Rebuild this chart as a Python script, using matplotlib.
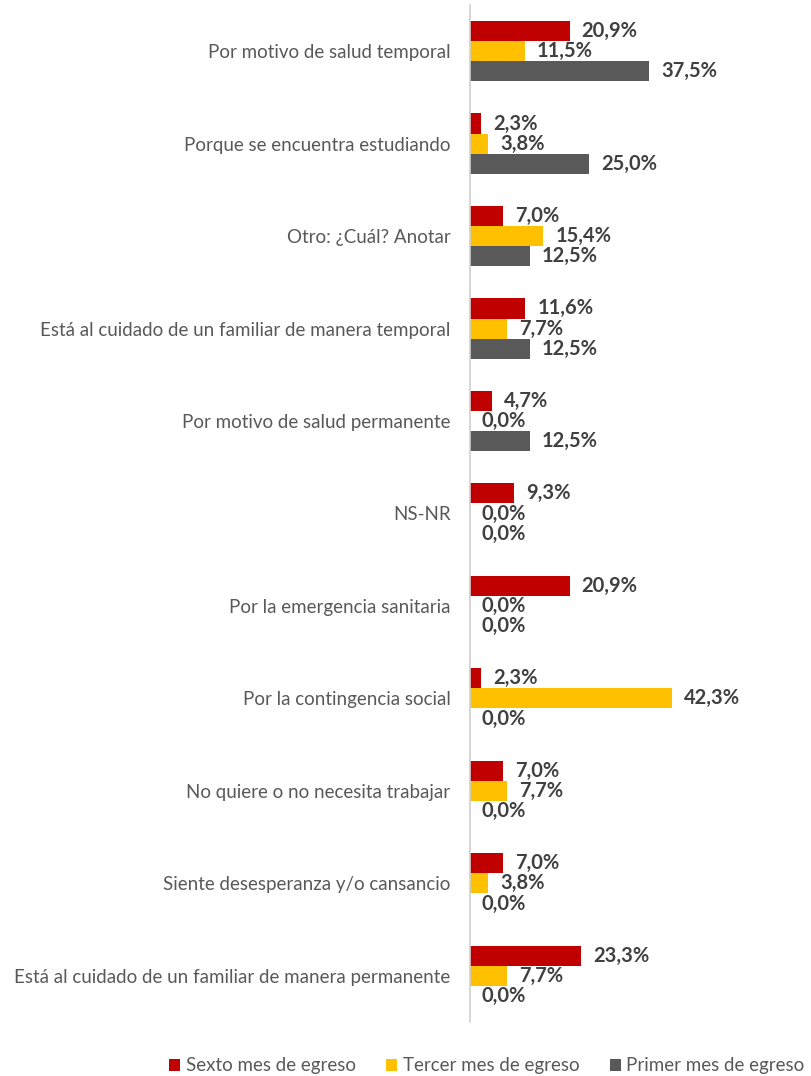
import matplotlib
matplotlib.use("Agg")
import matplotlib.pyplot as plt
import numpy as np

categories = [
    "Por motivo de salud temporal",
    "Porque se encuentra estudiando",
    "Otro: ¿Cuál? Anotar",
    "Está al cuidado de un familiar de manera temporal",
    "Por motivo de salud permanente",
    "NS-NR",
    "Por la emergencia sanitaria",
    "Por la contingencia social",
    "No quiere o no necesita trabajar",
    "Siente desesperanza y/o cansancio",
    "Está al cuidado de un familiar de manera permanente",
]
sexto = [20.9, 2.3, 7.0, 11.6, 4.7, 9.3, 20.9, 2.3, 7.0, 7.0, 23.3]
tercer = [11.5, 3.8, 15.4, 7.7, 0.0, 0.0, 0.0, 42.3, 7.7, 3.8, 7.7]
primer = [37.5, 25.0, 12.5, 12.5, 12.5, 0.0, 0.0, 0.0, 0.0, 0.0, 0.0]
series_names = ["Sexto mes de egreso", "Tercer mes de egreso", "Primer mes de egreso"]
colors = ["#C00000", "#FFC000", "#595959"]

plt.rcParams['font.family'] = ['Lato', 'DejaVu Sans']

W, H = 812, 1076
fig = plt.figure(figsize=(W / 100, H / 100), dpi=100)
ax = fig.add_axes([470 / W, 1 - 1022 / H, (W - 470) / W, (1022 - 5) / H])

n = len(categories)
y = np.arange(n)
bh = 0.218
series = [sexto, tercer, primer]
for i, (vals, c, name) in enumerate(zip(series, colors, series_names)):
    pos = y + (i - 1) * bh
    ax.barh(pos, vals, height=bh, color=c, label=name)
    for p, v in zip(pos, vals):
        ax.annotate(f"{v:.1f}%".replace(".", ","), xy=(v, p), xytext=(12, 0),
                    textcoords="offset pixels",
                    va="center", ha="left", fontsize=14.5, fontweight="bold",
                    color="#404040")

ax.set_ylim(n - 0.5, -0.5)
ax.set_xlim(0, (W - 470) / 4.77)
ax.set_yticks(y)
ax.set_yticklabels(categories, fontsize=13.5, color="#595959")
ax.tick_params(axis="y", length=0, pad=14)
ax.set_xticks([])
for s in ["top", "right", "bottom"]:
    ax.spines[s].set_visible(False)
ax.spines["left"].set_color("#D0D0D0")
ax.spines["left"].set_linewidth(1.2)

fig.legend(loc="center", bbox_to_anchor=(487 / W, 1 - 1066 / H), ncol=3,
           frameon=False, fontsize=13.5, handlelength=0.6, handleheight=0.6,
           handletextpad=0.3, columnspacing=1.6, labelcolor="#595959")

fig.savefig("out.png", dpi=100)
